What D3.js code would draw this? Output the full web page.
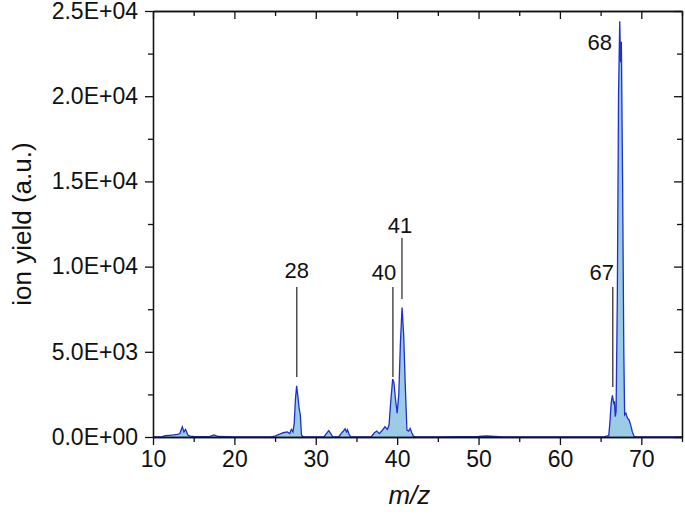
<!DOCTYPE html>
<html>
<head>
<meta charset="utf-8">
<script src="https://cdn.jsdelivr.net/npm/d3@7"></script>
<style>
  body { margin: 0; background: white; }
  text { font-family: "Liberation Sans", Arial, sans-serif; fill: #111; }
</style>
</head>
<body>
<svg width="685" height="515"></svg>
<script>
// spectrum (m/z vs ion yield)
const mz = [10.0, 11.0, 11.5, 12.0, 12.5, 13.0, 13.3, 13.6, 13.8, 14.0, 14.3, 14.6, 15.0, 16.0, 17.0, 17.5, 18.0, 19.0, 20.0, 21.0,
  24.5, 25.0, 25.5, 26.0, 26.5, 26.8, 27.0, 27.2, 27.35, 27.5, 27.65, 27.8, 27.95, 28.1, 28.25, 28.5,
  31.0, 31.3, 31.6, 31.9, 32.1, 32.8, 33.1, 33.4, 33.6, 33.8, 33.9, 34.1, 34.3,
  36.8, 37.2, 37.5, 37.8, 38.1, 38.5, 38.8, 39.0, 39.2, 39.45, 39.6, 39.8, 40.0, 40.2, 40.4, 40.6, 40.8, 41.0, 41.2, 41.4, 41.6, 41.8, 42.0, 42.3,
  45.0, 50.0, 51.0, 52.0, 53.0, 60.0, 64.0, 65.5, 66.0,
  66.15, 66.3, 66.45, 66.6, 66.7, 66.8, 66.9, 67.05, 67.2, 67.35, 67.45, 67.55, 67.7, 67.85, 67.95, 68.1, 68.3, 68.5, 68.7, 68.9, 69.1, 69.3, 75.0];
const ionYield = [0, 0, 80, 100, 120, 150, 200, 600, 300, 450, 100, 50, 30, 20, 40, 120, 30, 20, 10, 0,
  0, 50, 150, 250, 300, 200, 450, 300, 800, 2200, 3000, 2400, 1700, 1300, 100, 0,
  0, 200, 380, 150, 0, 0, 200, 350, 480, 300, 420, 150, 0,
  0, 250, 350, 200, 350, 600, 450, 700, 2000, 3400, 3200, 2200, 1400, 2500, 5500, 7600, 6000, 3000, 400, 350, 500, 250, 50, 0,
  0, 30, 60, 40, 0, 0, 0, 20, 80,
  900, 2000, 2450, 2000, 2100, 1200, 1500, 8000, 20000, 24400, 22000, 23200, 15000, 5000, 1300, 1400, 1100, 1000, 700, 300, 50, 0, 0];

// peak labels
const peakLabels = ["28", "40", "41", "67", "68"];
const peakMz = [27.67, 39.48, 40.59, 66.5, 67.35];
const lineTop = [8800, 8800, 11680, 8800, null];
const lineBottom = [3520, 3520, 8100, 2935, null];
const labelValue = [9330, 9200, 12000, 9200, 22700];
const labelShift = [0, -9, -2, -11, -20];

const xTicks = [10, 20, 30, 40, 50, 60, 70];
const yTicks = [0, 5000, 10000, 15000, 20000, 25000];

const svg = d3.select('svg');
const width = +svg.attr('width');
const height = +svg.attr('height');
const margin = {top: 11, right: 3, bottom: 78, left: 153};
const innerWidth = width - margin.left - margin.right;
const innerHeight = height - margin.top - margin.bottom;

const xScale = d3.scaleLinear().domain([10, 75]).range([0, innerWidth]);
const yScale = d3.scaleLinear().domain([0, 25000]).range([innerHeight, 0]);

const g = svg.append('g').attr('transform', `translate(${margin.left},${margin.top})`);

const data = mz.map((m, i) => ({m, v: ionYield[i]}));

g.append('path').datum(data)
  .attr('fill', '#9ccbe6')
  .attr('d', d3.area().x(d => xScale(d.m)).y0(yScale(0)).y1(d => yScale(d.v)));
g.append('path').datum(data)
  .attr('fill', 'none').attr('stroke', '#1f2fcf').attr('stroke-width', 1.3)
  .attr('d', d3.line().x(d => xScale(d.m)).y(d => yScale(d.v)));

const fmt = v => v.toExponential(1).toUpperCase().replace(/E([+-])(\d)$/, 'E$10$2');

// axes: outward on left/bottom, inward on top/right
const xMinor = d3.range(15, 76, 10);
const yMinor = d3.range(2500, 25000, 5000);
const styleAxis = sel => {
  sel.selectAll('path').attr('stroke', '#111').attr('stroke-width', 1.3);
  sel.selectAll('line').attr('stroke', '#111').attr('stroke-width', 1.3);
  sel.selectAll('text').style('font-size', '23px').attr('fill', '#111');
};

g.append('g').attr('transform', `translate(0,${innerHeight})`)
  .call(d3.axisBottom(xScale).tickValues(xMinor).tickSize(5).tickFormat('').tickSizeOuter(0)).call(styleAxis);
g.append('g').attr('transform', `translate(0,${innerHeight})`)
  .call(d3.axisBottom(xScale).tickValues(xTicks).tickSize(8).tickPadding(6).tickFormat(d3.format('d')).tickSizeOuter(0))
  .call(styleAxis);
g.append('g')
  .call(d3.axisLeft(yScale).tickValues(yMinor).tickSize(5).tickFormat('').tickSizeOuter(0)).call(styleAxis);
g.append('g')
  .call(d3.axisLeft(yScale).tickValues(yTicks).tickSize(8).tickPadding(7).tickFormat(fmt).tickSizeOuter(0))
  .call(styleAxis);
g.append('g')
  .call(d3.axisTop(xScale).tickValues(xMinor).tickSize(-5).tickFormat('').tickSizeOuter(0)).call(styleAxis);
g.append('g')
  .call(d3.axisTop(xScale).tickValues(xTicks).tickSize(-8).tickFormat('').tickSizeOuter(0)).call(styleAxis);
g.append('g').attr('transform', `translate(${innerWidth},0)`)
  .call(d3.axisRight(yScale).tickValues(yMinor).tickSize(-5).tickFormat('').tickSizeOuter(0)).call(styleAxis);
g.append('g').attr('transform', `translate(${innerWidth},0)`)
  .call(d3.axisRight(yScale).tickValues(yTicks).tickSize(-8).tickFormat('').tickSizeOuter(0)).call(styleAxis);

// peak annotations
peakLabels.forEach((lab, i) => {
  if (lineTop[i] !== null) {
    g.append('line')
      .attr('x1', xScale(peakMz[i])).attr('x2', xScale(peakMz[i]))
      .attr('y1', yScale(lineTop[i])).attr('y2', yScale(lineBottom[i]))
      .attr('stroke', '#222').attr('stroke-width', 1.2);
  }
  g.append('text')
    .attr('x', xScale(peakMz[i]) + labelShift[i])
    .attr('y', yScale(labelValue[i]))
    .attr('text-anchor', 'middle')
    .style('font-size', '22px')
    .text(lab);
});

// axis titles
svg.append('text')
  .attr('transform', `translate(31,${margin.top + innerHeight / 2}) rotate(-90)`)
  .attr('text-anchor', 'middle')
  .style('font-size', '26px')
  .text('ion yield (a.u.)');
svg.append('text')
  .attr('x', margin.left + xScale(41.5)).attr('y', 504)
  .attr('text-anchor', 'middle')
  .style('font-size', '26px').style('font-style', 'italic')
  .text('m/z');
</script>
</body>
</html>
